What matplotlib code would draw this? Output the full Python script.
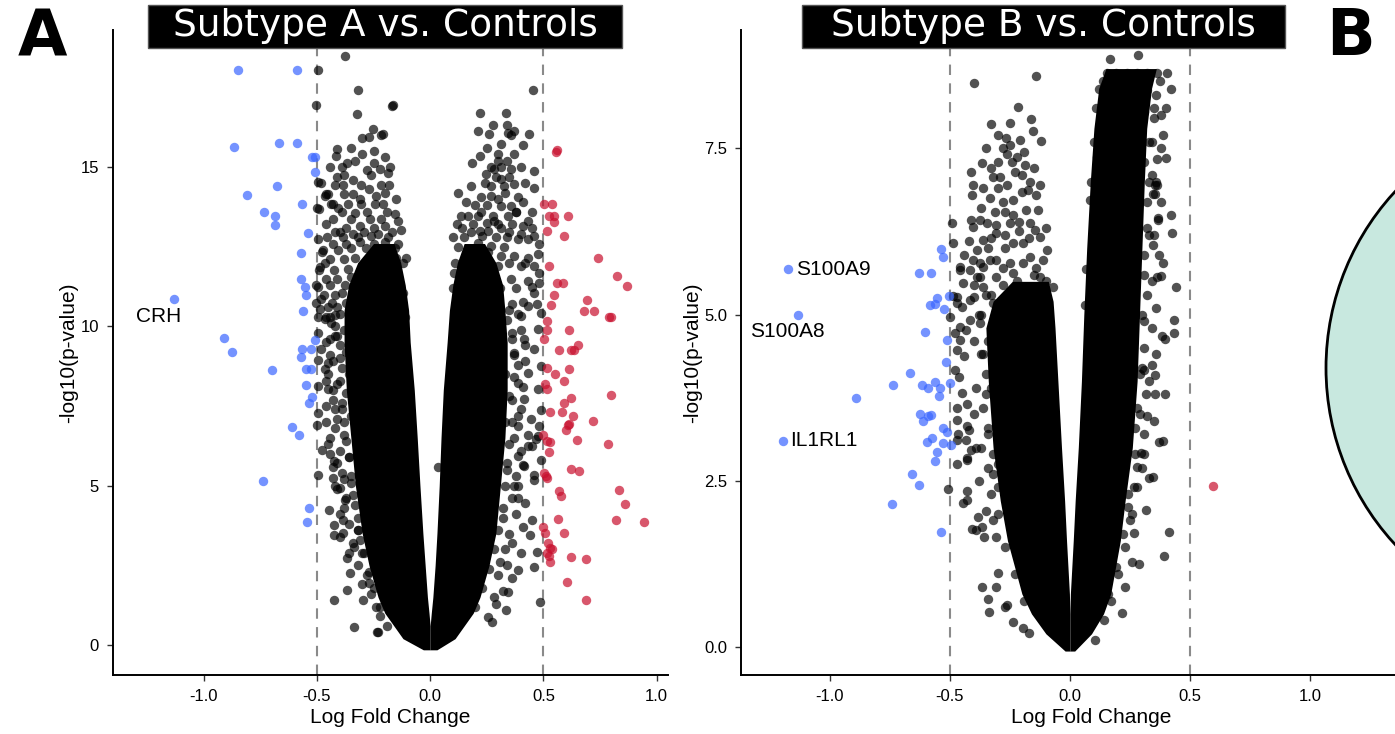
import matplotlib
matplotlib.use("Agg")
import matplotlib.pyplot as plt
from matplotlib.patches import Rectangle, Ellipse

# ---------------- data: Subtype A vs. Controls ----------------
a_blue = [(-0.846, 18.03), (-0.586, 18.03), (-0.865, 15.64), (-0.667, 15.75), (-0.589, 15.75),
          (-0.52, 15.32), (-0.51, 15.32), (-0.51, 14.84), (-0.81, 14.12), (-0.674, 14.4),
          (-0.733, 13.6), (-0.687, 13.47), (-0.683, 13.18), (-0.565, 13.84), (-0.539, 12.92),
          (-0.568, 12.3), (-0.568, 11.5), (-0.551, 11.24), (-0.546, 10.99), (-0.561, 10.48),
          (-1.129, 10.85), (-0.909, 9.65), (-0.874, 9.2), (-0.70, 8.63), (-0.51, 9.57),
          (-0.565, 9.29), (-0.524, 9.29), (-0.568, 9.05), (-0.55, 8.65), (-0.527, 8.65),
          (-0.546, 8.15), (-0.52, 7.78), (-0.536, 7.6), (-0.608, 6.84), (-0.581, 6.58),
          (-0.74, 5.16), (-0.533, 4.3), (-0.543, 3.85)]

a_red = [(0.555, 15.48), (0.56, 15.55), (0.504, 13.84), (0.536, 13.84), (0.526, 13.47),
         (0.545, 13.47), (0.607, 13.47), (0.548, 13.27), (0.518, 13.0), (0.592, 12.84),
         (0.739, 12.13), (0.526, 11.89), (0.824, 11.58), (0.871, 11.27), (0.559, 11.37),
         (0.587, 11.37), (0.548, 10.97), (0.692, 10.83), (0.533, 10.66), (0.68, 10.47),
         (0.724, 10.47), (0.79, 10.3), (0.80, 10.3), (0.518, 10.17), (0.611, 9.88),
         (0.515, 9.9), (0.504, 9.61), (0.57, 9.27), (0.621, 9.27), (0.636, 9.27),
         (0.651, 9.43), (0.518, 8.68), (0.551, 8.52), (0.614, 8.67), (0.589, 8.28),
         (0.507, 8.18), (0.518, 8.05), (0.797, 7.86), (0.621, 7.76), (0.592, 7.6),
         (0.53, 7.32), (0.584, 7.3), (0.629, 7.2), (0.614, 6.95), (0.721, 7.02),
         (0.599, 6.76), (0.608, 6.92), (0.648, 6.42), (0.518, 6.4), (0.53, 6.37),
         (0.50, 6.6), (0.783, 6.32), (0.526, 6.05), (0.624, 5.52), (0.658, 5.45),
         (0.504, 5.4), (0.518, 5.24), (0.51, 5.3), (0.834, 4.85), (0.57, 4.82),
         (0.577, 4.67), (0.858, 4.43), (0.565, 3.95), (0.82, 3.93), (0.942, 3.85),
         (0.50, 3.71), (0.506, 3.52), (0.592, 3.51), (0.52, 3.2), (0.53, 3.05),
         (0.54, 3.0), (0.515, 2.9), (0.525, 2.8), (0.53, 2.6), (0.621, 2.76),
         (0.69, 2.69), (0.604, 1.99), (0.686, 1.42)]

a_black_upper_left = [
    (-0.375, 18.47), (-0.493, 18.03), (-0.317, 17.43), (-0.502, 16.95), (-0.322, 16.67),
    (-0.169, 16.9), (-0.165, 16.95), (-0.252, 16.2), (-0.30, 15.9), (-0.27, 15.95),
    (-0.219, 16.0), (-0.21, 16.05), (-0.41, 15.57), (-0.417, 15.36), (-0.44, 15.0),
    (-0.39, 15.0), (-0.366, 15.13), (-0.247, 15.13), (-0.176, 15.0), (-0.41, 14.7),
    (-0.38, 14.75), (-0.186, 14.8), (-0.26, 14.76), (-0.483, 14.5), (-0.42, 14.45),
    (-0.385, 14.45), (-0.307, 14.45), (-0.216, 14.45), (-0.182, 14.45), (-0.458, 14.15),
    (-0.38, 14.15), (-0.339, 14.15), (-0.498, 13.7), (-0.43, 13.84), (-0.363, 13.84),
    (-0.304, 13.84), (-0.245, 13.84), (-0.208, 13.84), (-0.157, 13.52), (-0.43, 13.37),
    (-0.348, 13.37), (-0.267, 13.37), (-0.216, 13.37), (-0.128, 13.02), (-0.454, 12.8),
    (-0.385, 12.8), (-0.319, 12.8), (-0.26, 12.85), (-0.186, 12.8), (-0.473, 12.4),
    (-0.407, 12.4), (-0.348, 12.45), (-0.282, 12.45), (-0.208, 12.4), (-0.157, 12.45),
    (-0.106, 12.14), (-0.489, 11.76), (-0.423, 11.76), (-0.363, 11.8), (-0.296, 11.76),
    (-0.23, 11.76), (-0.172, 11.8), (-0.502, 11.29), (-0.444, 11.29), (-0.377, 11.3),
    (-0.142, 11.29), (-0.504, 10.72), (-0.432, 10.72), (-0.37, 10.72), (-0.13, 10.72),
    (-0.495, 10.3), (-0.46, 10.3), (-0.42, 10.35), (-0.11, 10.3), (-0.465, 14.1),
    (-0.45, 14.15), (-0.436, 13.84), (-0.407, 13.73), (-0.492, 13.68), (-0.495, 14.52),
    (-0.495, 12.74), (-0.476, 12.32), (-0.466, 12.0), (-0.488, 11.85), (-0.495, 11.22),
    (-0.48, 10.85), (-0.488, 10.53), (-0.466, 10.22), (-0.439, 10.11),
    (-0.40, 12.95), (-0.34, 12.9), (-0.29, 12.95), (-0.23, 12.9), (-0.17, 12.95),
    (-0.43, 12.6), (-0.37, 12.6), (-0.31, 12.65), (-0.25, 12.6), (-0.20, 12.65),
    (-0.14, 12.6), (-0.44, 12.1), (-0.38, 12.1), (-0.33, 12.15), (-0.27, 12.1),
    (-0.21, 12.1), (-0.15, 12.15), (-0.12, 12.0), (-0.46, 11.5), (-0.41, 11.5),
    (-0.35, 11.55), (-0.30, 11.5), (-0.25, 11.5), (-0.19, 11.55), (-0.14, 11.5),
    (-0.47, 11.0), (-0.42, 11.0), (-0.39, 11.05), (-0.33, 11.0), (-0.16, 11.0),
    (-0.12, 11.05), (-0.45, 10.6), (-0.41, 10.6), (-0.12, 10.55),
    (-0.35, 15.6), (-0.30, 15.4), (-0.25, 15.5), (-0.20, 15.3), (-0.33, 15.2),
    (-0.28, 14.9), (-0.22, 14.95), (-0.34, 14.6), (-0.27, 14.3), (-0.24, 14.1),
    (-0.20, 14.2), (-0.15, 14.0), (-0.31, 14.0), (-0.39, 13.6), (-0.33, 13.55),
    (-0.28, 13.6), (-0.19, 13.6), (-0.14, 13.3), (-0.37, 13.1), (-0.31, 13.15),
    (-0.25, 13.1), (-0.20, 13.15), (-0.46, 13.2), (-0.42, 12.95)]

a_black_left_fringe = [
    (-0.495, 9.8), (-0.48, 9.28), (-0.495, 8.96), (-0.45, 8.86), (-0.466, 8.65),
    (-0.495, 8.12), (-0.45, 8.02), (-0.458, 7.5), (-0.495, 7.29), (-0.42, 10.0),
    (-0.38, 9.9), (-0.44, 9.6), (-0.40, 9.4), (-0.37, 9.2), (-0.43, 8.9), (-0.39, 8.7),
    (-0.36, 8.5), (-0.46, 8.3), (-0.41, 8.2), (-0.37, 7.9), (-0.43, 7.7), (-0.39, 7.4),
    (-0.35, 7.2), (-0.46, 7.0), (-0.42, 6.8), (-0.38, 6.6), (-0.45, 6.3), (-0.40, 6.1),
    (-0.36, 5.9), (-0.43, 5.6), (-0.39, 5.4), (-0.35, 5.1), (-0.41, 4.9), (-0.37, 4.6),
    (-0.33, 4.4), (-0.40, 4.1), (-0.36, 3.8), (-0.32, 3.6), (-0.34, 3.2), (-0.30, 2.9),
    (-0.32, 2.5), (-0.28, 2.2), (-0.30, 1.9), (-0.26, 1.6), (-0.24, 1.2), (-0.22, 0.9),
    (-0.19, 0.6), (-0.498, 6.89), (-0.478, 6.11), (-0.493, 5.35), (-0.445, 4.25),
    (-0.425, 3.77), (-0.425, 3.46), (-0.385, 3.51), (-0.385, 3.91), (-0.336, 3.09),
    (-0.352, 2.26), (-0.366, 1.73), (-0.425, 1.42), (-0.297, 1.42), (-0.336, 0.58),
    (-0.228, 0.42), (-0.235, 0.42), (-0.425, 5.77), (-0.43, 5.24), (-0.375, 4.56),
    (-0.40, 4.93), (-0.317, 3.62), (-0.366, 2.74), (-0.268, 1.96),
    (-0.22, 1.2), (-0.25, 1.8), (-0.27, 2.3), (-0.29, 2.9), (-0.31, 3.3), (-0.32, 4.0),
    (-0.34, 4.7), (-0.35, 5.3), (-0.36, 5.9), (-0.37, 6.4), (-0.38, 7.0), (-0.39, 7.6),
    (-0.40, 8.3), (-0.40, 9.0), (-0.41, 9.7), (-0.40, 10.4), (-0.44, 9.1), (-0.46, 9.5),
    (-0.43, 8.0), (-0.41, 7.1), (-0.44, 6.5), (-0.41, 5.7), (-0.38, 5.2), (-0.38, 4.3),
    (-0.44, 10.3), (-0.42, 9.7), (-0.45, 8.5), (-0.42, 7.4), (-0.44, 6.0), (-0.42, 5.0),
    (-0.40, 3.4), (-0.36, 2.9)]

a_black_upper_right = [
    (0.22, 16.7), (0.333, 16.7), (0.456, 17.43), (0.276, 16.32), (0.339, 16.32),
    (0.21, 16.12), (0.261, 16.04), (0.313, 15.73), (0.357, 15.99), (0.371, 16.12),
    (0.437, 16.04), (0.408, 15.69), (0.342, 16.07), (0.185, 15.12), (0.22, 15.34),
    (0.298, 15.2), (0.313, 14.99), (0.357, 14.94), (0.283, 14.94), (0.46, 14.86),
    (0.247, 14.78), (0.327, 14.41), (0.371, 14.47), (0.268, 14.39), (0.313, 14.62),
    (0.46, 14.33), (0.125, 14.2), (0.225, 14.05), (0.298, 13.99), (0.386, 14.05),
    (0.357, 13.79), (0.313, 13.79), (0.269, 14.1), (0.136, 13.47), (0.166, 13.47),
    (0.21, 13.47), (0.276, 13.47), (0.342, 13.47), (0.379, 13.6), (0.225, 13.6),
    (0.43, 13.31), (0.18, 12.95), (0.254, 13.0), (0.313, 13.1), (0.386, 12.74),
    (0.43, 12.74), (0.481, 12.58), (0.21, 12.63), (0.269, 12.53), (0.327, 12.48),
    (0.122, 12.48), (0.166, 12.21), (0.254, 12.32), (0.313, 12.21), (0.371, 12.21),
    (0.43, 12.16), (0.474, 12.27), (0.202, 11.95), (0.298, 11.9), (0.401, 11.9),
    (0.46, 11.9), (0.481, 11.69), (0.107, 11.69), (0.136, 11.58), (0.195, 11.48),
    (0.269, 11.43), (0.357, 11.48), (0.43, 11.43), (0.481, 11.37),
    (0.12, 13.2), (0.19, 13.2), (0.25, 13.25), (0.30, 13.2), (0.36, 13.2), (0.41, 13.15),
    (0.10, 12.8), (0.15, 12.8), (0.23, 12.85), (0.29, 12.8), (0.34, 12.8), (0.40, 12.9),
    (0.46, 12.85), (0.11, 12.0), (0.18, 12.0), (0.24, 12.05), (0.35, 12.0), (0.42, 12.0),
    (0.10, 11.2), (0.16, 11.2), (0.23, 11.15), (0.31, 11.2), (0.38, 11.2), (0.45, 11.25),
    (0.36, 10.7), (0.41, 10.75), (0.47, 10.7),
    (0.25, 15.6), (0.30, 15.4), (0.37, 15.4), (0.27, 15.0), (0.34, 15.2), (0.40, 15.0),
    (0.24, 14.5), (0.29, 14.7), (0.35, 14.7), (0.42, 14.5), (0.18, 14.4), (0.16, 13.9),
    (0.20, 13.8), (0.25, 13.8), (0.33, 14.2), (0.41, 13.9), (0.45, 13.6), (0.14, 13.1),
    (0.22, 13.0), (0.28, 13.3), (0.35, 12.95), (0.38, 13.6), (0.45, 13.1)]

a_black_right_fringe = [
    (0.46, 11.06), (0.43, 10.64), (0.489, 10.43), (0.401, 10.33), (0.474, 9.91),
    (0.415, 9.59), (0.46, 9.28), (0.371, 9.17), (0.489, 8.75), (0.43, 8.54),
    (0.386, 8.23), (0.474, 8.02), (0.415, 7.71), (0.489, 7.39), (0.445, 7.08),
    (0.386, 6.87), (0.474, 6.55), (0.43, 6.24), (0.489, 5.82), (0.415, 5.61),
    (0.46, 5.19), (0.386, 4.98), (0.486, 1.36), (0.46, 2.46), (0.40, 2.88), (0.47, 2.93),
    (0.342, 1.68), (0.273, 0.73), (0.333, 1.1), (0.254, 0.89), (0.39, 2.36), (0.42, 4.45),
    (0.45, 3.93), (0.44, 3.46), (0.46, 5.35), (0.45, 6.24), (0.48, 6.87), (0.467, 6.45),
    (0.39, 5.93), (0.41, 5.64), (0.37, 4.98), (0.034, 5.6), (0.33, 3.0), (0.35, 3.5),
    (0.32, 4.0), (0.36, 4.6), (0.34, 5.5), (0.37, 6.5), (0.33, 7.0), (0.35, 7.8),
    (0.33, 8.5), (0.36, 9.6), (0.34, 10.2), (0.30, 2.2), (0.28, 1.5), (0.31, 2.6),
    (0.20, 1.2), (0.23, 1.8), (0.26, 2.4), (0.28, 3.0), (0.30, 3.6), (0.32, 4.3),
    (0.33, 5.0), (0.34, 5.7), (0.35, 6.3), (0.36, 7.0), (0.36, 7.7), (0.37, 8.4),
    (0.37, 9.1), (0.36, 9.8), (0.35, 10.5), (0.40, 9.9), (0.42, 8.9), (0.40, 7.4),
    (0.43, 6.6), (0.39, 4.6), (0.41, 3.7), (0.36, 3.2),
    (0.39, 10.4), (0.42, 9.4), (0.39, 8.8), (0.41, 8.1), (0.39, 7.2), (0.40, 6.1),
    (0.38, 5.3), (0.38, 4.1), (0.34, 2.5), (0.36, 2.1), (0.32, 1.7), (0.29, 1.3)]

# envelope of the solid black cloud (thousands of overlapping genes)
a_core_y = [-0.15, 0.2, 0.6, 1.0, 1.5, 2.5, 3.5, 5.0, 6.5, 8.0, 9.5, 10.5, 11.3, 12.0, 12.6]
a_core_left_out = [-0.03, -0.12, -0.16, -0.20, -0.23, -0.27, -0.30, -0.33, -0.35, -0.37,
                   -0.38, -0.38, -0.36, -0.32, -0.25]
a_core_left_in = [0.0, 0.0, 0.0, -0.005, -0.012, -0.022, -0.032, -0.045, -0.057, -0.07,
                  -0.088, -0.095, -0.11, -0.13, -0.16]
a_core_right_in = [0.0, 0.0, 0.0, 0.005, 0.012, 0.022, 0.03, 0.04, 0.048, 0.058, 0.075,
                   0.085, 0.10, 0.12, 0.15]
a_core_right_out = [0.03, 0.11, 0.15, 0.19, 0.22, 0.26, 0.29, 0.31, 0.33, 0.34, 0.34,
                    0.33, 0.32, 0.29, 0.24]

a_labels = [("CRH", -1.30, 10.30)]

# ---------------- data: Subtype B vs. Controls ----------------
b_blue = [(-1.176, 5.69), (-1.132, 4.99), (-1.197, 3.10), (-0.889, 3.75), (-0.736, 3.94),
          (-0.667, 4.12), (-0.628, 5.63), (-0.58, 5.63), (-0.535, 5.98), (-0.528, 5.86),
          (-0.555, 5.25), (-0.583, 5.15), (-0.5625, 5.16), (-0.525, 5.09), (-0.503, 5.28),
          (-0.603, 4.74), (-0.511, 4.62), (-0.517, 4.28), (-0.614, 3.94), (-0.59, 3.89),
          (-0.5625, 3.99), (-0.542, 3.89), (-0.545, 3.78), (-0.50, 3.97), (-0.625, 3.51),
          (-0.611, 3.40), (-0.59, 3.48), (-0.58, 3.49), (-0.528, 3.30), (-0.511, 3.24),
          (-0.597, 3.09), (-0.576, 3.15), (-0.528, 3.07), (-0.497, 3.04), (-0.555, 2.94),
          (-0.5625, 2.80), (-0.657, 2.60), (-0.629, 2.43), (-0.741, 2.15), (-0.536, 1.73)]

b_red = [(0.595, 2.42)]

b_black_upper_left = [
    (-0.399, 8.49), (-0.143, 8.59), (-0.215, 8.12), (-0.329, 7.86), (-0.25, 7.88),
    (-0.162, 7.94), (-0.155, 7.76), (-0.121, 7.61), (-0.267, 7.66), (-0.208, 7.62),
    (-0.278, 7.51), (-0.25, 7.55), (-0.264, 7.42), (-0.222, 7.37), (-0.243, 7.30),
    (-0.188, 7.25), (-0.299, 7.30), (-0.368, 7.28), (-0.412, 7.15), (-0.319, 7.07),
    (-0.292, 7.07), (-0.264, 6.95), (-0.201, 7.10), (-0.167, 7.0), (-0.125, 6.95),
    (-0.333, 6.75), (-0.403, 6.95), (-0.406, 6.80), (-0.278, 6.70), (-0.236, 6.72),
    (-0.174, 6.87), (-0.142, 6.80), (-0.236, 6.50), (-0.181, 6.57), (-0.132, 6.57),
    (-0.375, 6.42), (-0.41, 6.42), (-0.347, 6.37), (-0.306, 6.35), (-0.25, 6.37),
    (-0.167, 6.37), (-0.146, 6.27), (-0.125, 6.17), (-0.403, 6.32), (-0.361, 6.12),
    (-0.306, 6.22), (-0.236, 6.07), (-0.194, 6.07), (-0.097, 5.97), (-0.458, 5.67),
    (-0.417, 5.67), (-0.375, 5.77), (-0.306, 5.82), (-0.25, 5.77), (-0.167, 5.87),
    (-0.111, 5.82), (-0.194, 5.77), (-0.389, 5.97), (-0.444, 5.47), (-0.375, 5.57),
    (-0.306, 5.57), (-0.236, 5.62), (-0.125, 5.57), (-0.069, 5.42), (-0.472, 5.27),
    (-0.417, 5.22), (-0.493, 6.37), (-0.486, 6.07), (-0.451, 5.12), (-0.5, 4.97),
    (-0.417, 4.92), (-0.431, 4.77), (-0.458, 4.62), (-0.375, 4.87),
    (-0.33, 5.3), (-0.28, 5.45), (-0.22, 5.5), (-0.15, 5.6), (-0.10, 5.5),
    (-0.34, 6.0), (-0.27, 6.0), (-0.21, 6.25), (-0.10, 6.3), (-0.31, 6.55),
    (-0.30, 7.7), (-0.35, 7.5), (-0.19, 7.45), (-0.33, 7.2), (-0.23, 7.15), (-0.15, 7.2),
    (-0.36, 6.9), (-0.30, 6.9), (-0.20, 6.85), (-0.37, 6.6), (-0.27, 6.55), (-0.21, 6.4),
    (-0.33, 6.15), (-0.27, 6.2), (-0.17, 6.15), (-0.42, 6.1), (-0.44, 5.9), (-0.28, 5.7),
    (-0.14, 5.7), (-0.40, 5.45)]

b_black_left_fringe = [
    (-0.486, 5.28), (-0.472, 5.17), (-0.479, 4.73), (-0.458, 4.82), (-0.47, 4.47),
    (-0.48, 4.17), (-0.44, 4.37), (-0.46, 4.06), (-0.45, 3.82), (-0.47, 3.59),
    (-0.43, 3.66), (-0.47, 3.41), (-0.42, 3.26), (-0.47, 3.11), (-0.41, 2.96),
    (-0.47, 2.76), (-0.43, 2.81), (-0.404, 5.82), (-0.388, 5.57), (-0.362, 5.72),
    (-0.333, 5.82), (-0.458, 5.71), (-0.36, 5.42), (-0.40, 5.27), (-0.32, 5.17),
    (-0.467, 3.21), (-0.434, 3.11), (-0.393, 2.99), (-0.43, 3.32), (-0.30, 2.76),
    (-0.262, 2.66), (-0.43, 2.85), (-0.508, 2.37), (-0.43, 2.34), (-0.445, 2.16),
    (-0.43, 2.21), (-0.383, 1.95), (-0.408, 1.78), (-0.365, 1.81), (-0.359, 1.65),
    (-0.393, 1.76), (-0.322, 1.91), (-0.309, 1.66), (-0.30, 1.11), (-0.365, 0.91),
    (-0.309, 0.91), (-0.34, 0.72), (-0.262, 0.63), (-0.272, 0.61), (-0.338, 0.52),
    (-0.235, 0.38), (-0.197, 0.28), (-0.17, 0.21), (-0.40, 4.6), (-0.37, 4.4),
    (-0.35, 4.1), (-0.39, 3.9), (-0.36, 3.6), (-0.40, 3.5), (-0.34, 3.3), (-0.37, 3.0),
    (-0.34, 2.7), (-0.38, 2.5), (-0.33, 2.3), (-0.35, 2.05), (-0.30, 2.4), (-0.32, 2.9),
    (-0.33, 3.9), (-0.34, 4.6), (-0.38, 5.0), (-0.35, 5.3),
    (-0.19, 0.7), (-0.23, 1.1), (-0.27, 1.5), (-0.30, 2.0), (-0.32, 2.6), (-0.34, 3.2),
    (-0.35, 3.8), (-0.36, 4.4), (-0.37, 5.0)]

b_black_upper_right = [
    (0.167, 8.84), (0.285, 8.90), (0.153, 8.63), (0.194, 8.63), (0.236, 8.63),
    (0.278, 8.63), (0.32, 8.63), (0.361, 8.63), (0.403, 8.63), (0.139, 8.52),
    (0.375, 8.52), (0.18, 8.38), (0.25, 8.38), (0.32, 8.38), (0.36, 8.3), (0.389, 7.70),
    (0.361, 7.34), (0.40, 7.35), (0.354, 6.95), (0.354, 6.81), (0.421, 6.50),
    (0.368, 6.43), (0.425, 6.23), (0.389, 5.77), (0.364, 5.56), (0.378, 5.58),
    (0.444, 5.42), (0.435, 4.92), (0.433, 4.73), (0.382, 4.68), (0.396, 4.64),
    (0.340, 4.24), (0.354, 4.09), (0.308, 4.17), (0.319, 3.81), (0.354, 3.80),
    (0.396, 3.80), (0.322, 3.47), (0.389, 3.10), (0.308, 2.91), (0.278, 2.71),
    (0.347, 2.56), (0.278, 2.41), (0.361, 6.95), (0.347, 6.82), (0.347, 6.04),
    (0.368, 6.45), (0.104, 6.32), (0.069, 5.68), (0.063, 5.14), (0.083, 6.72),
    (0.111, 7.37), (0.14, 8.2), (0.20, 8.15), (0.26, 8.1), (0.31, 8.05), (0.35, 7.95),
    (0.15, 7.9), (0.22, 7.85), (0.29, 7.8), (0.33, 7.6), (0.13, 7.6), (0.31, 7.3),
    (0.34, 7.1), (0.32, 6.7), (0.33, 6.2), (0.31, 5.9), (0.32, 5.3), (0.30, 5.0),
    (0.31, 4.5), (0.29, 4.1), (0.09, 7.0), (0.10, 7.6), (0.11, 8.1), (0.12, 8.4),
    (0.34, 7.6), (0.35, 8.1), (0.38, 8.0),
    (0.38, 7.5), (0.36, 7.0), (0.38, 6.7), (0.35, 6.2), (0.37, 5.9), (0.34, 5.5),
    (0.36, 5.1), (0.34, 4.8), (0.36, 4.4), (0.33, 4.0), (0.35, 3.4), (0.31, 3.2),
    (0.30, 2.7), (0.40, 8.1), (0.42, 8.4)]

b_black_right_fringe = [
    (0.373, 3.09), (0.329, 2.55), (0.317, 2.06), (0.413, 1.73), (0.392, 1.37),
    (0.267, 1.71), (0.258, 1.28), (0.286, 1.25), (0.229, 0.91), (0.217, 0.51),
    (0.104, 0.11), (0.296, 2.92), (0.267, 2.41), (0.24, 2.11), (0.249, 1.91),
    (0.27, 3.3), (0.28, 3.6), (0.26, 2.0), (0.23, 1.5), (0.20, 1.1), (0.17, 0.7),
    (0.14, 0.4), (0.16, 0.8), (0.19, 1.2), (0.22, 1.7), (0.24, 2.3), (0.27, 2.9),
    (0.29, 3.5), (0.30, 4.2), (0.31, 4.9), (0.31, 5.6), (0.32, 6.3), (0.33, 7.0)]

b_left_core_y = [-0.06, 0.2, 0.5, 0.8, 1.2, 1.6, 2.2, 3.0, 4.0, 4.8, 5.2, 5.5]
b_left_core_out = [-0.02, -0.10, -0.16, -0.20, -0.23, -0.26, -0.29, -0.32, -0.34, -0.35,
                   -0.32, -0.24]
b_left_core_in = [0.0, 0.0, 0.0, -0.002, -0.008, -0.014, -0.022, -0.035, -0.05, -0.062,
                  -0.07, -0.09]
b_right_core_y = [-0.06, 0.2, 0.5, 0.8, 1.2, 1.6, 2.2, 3.0, 4.0, 5.0, 6.0, 7.0, 7.8, 8.4, 8.7]
b_right_core_in = [0.0, 0.0, 0.0, 0.002, 0.008, 0.014, 0.022, 0.035, 0.048, 0.058, 0.07,
                   0.085, 0.10, 0.12, 0.15]
b_right_core_out = [0.02, 0.09, 0.14, 0.17, 0.19, 0.21, 0.23, 0.26, 0.28, 0.29, 0.30,
                    0.31, 0.32, 0.34, 0.36]

b_labels = [("S100A9", -1.142, 5.68), ("S100A8", -1.333, 4.74), ("IL1RL1", -1.167, 3.10)]

fc_cut = 0.5
a_title = "Subtype A vs. Controls"
b_title = "Subtype B vs. Controls"

# ---------------- drawing ----------------
W, H = 1395, 734
fig = plt.figure(figsize=(W / 100, H / 100), dpi=100)

BLACK = "black"
BLUE = "#3a66ff"
RED = "#c8102e"
tick_font = dict(family="Liberation Sans", size=12)
lab_font = dict(family="Liberation Sans", size=15)


def scatter(ax, pts, color, alpha, z=3):
    xs = [p[0] for p in pts]
    ys = [p[1] for p in pts]
    ax.scatter(xs, ys, s=46, c=color, alpha=alpha, linewidths=0, zorder=z)


def style(ax, xlim, ylim, xticks, yticks, ytick_fmt):
    ax.set_xlim(*xlim)
    ax.set_ylim(*ylim)
    for s in ("top", "right"):
        ax.spines[s].set_visible(False)
    for s in ("left", "bottom"):
        ax.spines[s].set_linewidth(1.4)
    ax.set_xticks(xticks)
    ax.set_xticklabels([f"{t:.1f}" for t in xticks], **tick_font)
    ax.set_yticks(yticks)
    ax.set_yticklabels([ytick_fmt(t) for t in yticks], **tick_font)
    ax.tick_params(length=4, width=1, color="#333333", pad=6)
    ax.set_xlabel("Log Fold Change", labelpad=3, **lab_font)
    ax.set_ylabel("-log10(p-value)", labelpad=1.5, **lab_font)
    for v in (-fc_cut, fc_cut):
        ax.axvline(v, color="#8a8a8a", lw=1.5, ls=(0, (5, 4)), zorder=1)


# panel A
axA = fig.add_axes([113 / W, 59 / H, 555 / W, 645 / H])
style(axA, (-1.40, 1.05), (-0.94, 19.3), [-1.0, -0.5, 0.0, 0.5, 1.0], [0, 5, 10, 15],
      lambda t: f"{t:d}")
axA.fill_betweenx(a_core_y, a_core_left_out, a_core_left_in, color=BLACK, lw=0, zorder=2)
axA.fill_betweenx(a_core_y, a_core_right_in, a_core_right_out, color=BLACK, lw=0, zorder=2)
for grp in (a_black_upper_left, a_black_left_fringe, a_black_upper_right, a_black_right_fringe):
    scatter(axA, grp, BLACK, 0.68)
scatter(axA, a_blue, BLUE, 0.7, 4)
scatter(axA, a_red, RED, 0.7, 4)
for name, x, y in a_labels:
    axA.text(x, y, name, ha="left", va="center", zorder=5, **lab_font)

# panel B (runs past the right edge of the picture)
axB = fig.add_axes([741 / W, 59 / H, 701 / W, 645 / H])
style(axB, (-1.37, 1.55), (-0.42, 9.28), [-1.0, -0.5, 0.0, 0.5, 1.0, 1.5], [0.0, 2.5, 5.0, 7.5],
      lambda t: f"{t:.1f}")
axB.fill_betweenx(b_left_core_y, b_left_core_out, b_left_core_in, color=BLACK, lw=0, zorder=2)
axB.fill_betweenx(b_right_core_y, b_right_core_in, b_right_core_out, color=BLACK, lw=0, zorder=2)
for grp in (b_black_upper_left, b_black_left_fringe, b_black_upper_right, b_black_right_fringe):
    scatter(axB, grp, BLACK, 0.68)
scatter(axB, b_blue, BLUE, 0.7, 4)
scatter(axB, b_red, RED, 0.7, 4)
for name, x, y in b_labels:
    axB.text(x, y, name, ha="left", va="center", zorder=5, **lab_font)

# title boxes
for (x0, x1), title in (((148, 622), a_title), ((802, 1285), b_title)):
    fig.add_artist(Rectangle((x0 / W, 1 - 48 / H), (x1 - x0) / W, 43 / H,
                             transform=fig.transFigure, facecolor="black",
                             edgecolor="#555555", lw=1, zorder=10))
    fig.text((x0 + x1) / 2 / W, 1 - 26.5 / H, title, color="white", ha="center",
             va="center", family="DejaVu Sans", size=27, zorder=11)

# panel letters
fig.text(42 / W, 1 - 39 / H, "A", ha="center", va="center", family="DejaVu Sans",
         weight="bold", size=46)
fig.text(1351 / W, 1 - 37 / H, "B", ha="center", va="center", family="DejaVu Sans",
         weight="bold", size=46)

# edge of the Venn diagram circle from panel B
R = 260
fig.add_artist(Ellipse(((1326 + R) / W, 1 - 368 / H), 2 * R / W, 2 * R / H,
                       transform=fig.transFigure, facecolor="#c8e8df",
                       edgecolor="black", lw=2, zorder=12))

fig.savefig("out.png", dpi=100)
